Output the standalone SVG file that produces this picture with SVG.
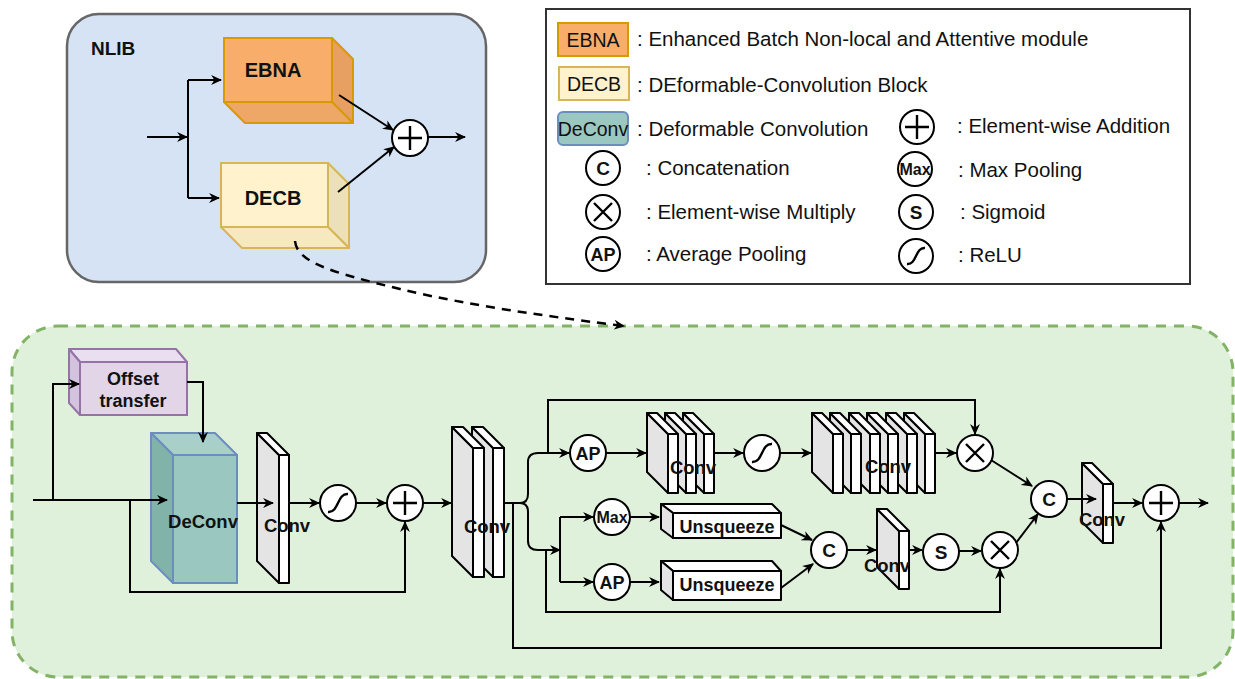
<svg xmlns="http://www.w3.org/2000/svg" width="1235" height="679" viewBox="0 0 1235 679">
<defs>
  <marker id="arr" viewBox="0 0 10 10" refX="9" refY="5" markerWidth="11" markerHeight="11" markerUnits="userSpaceOnUse" orient="auto">
    <path d="M0,0.5 L10,5 L0,9.5 L3,5 z" fill="#000"/>
  </marker>
</defs>
<style>
  .ln{fill:none;stroke:#000;stroke-width:2}
  .ar{fill:none;stroke:#000;stroke-width:2;marker-end:url(#arr)}
  .op{fill:#fff;stroke:#000;stroke-width:2}
  .sym{fill:none;stroke:#000;stroke-width:2.4}
  .b{font-family:"Liberation Sans",Arial,sans-serif;font-weight:bold;text-anchor:middle;fill:#111}
  .lg{font-family:"Liberation Sans",Arial,sans-serif;font-size:20.5px;fill:#111}
  .sw{font-family:"Liberation Sans",Arial,sans-serif;font-size:19.5px;fill:#111;text-anchor:middle}
  .side{fill:#e4e4e4;stroke:#000;stroke-width:2;stroke-linejoin:round}
  .face{fill:#fff;stroke:#000;stroke-width:2;stroke-linejoin:round}
</style>

<rect width="1235" height="679" fill="#fff"/>

<!-- NLIB container -->
<g id="nlib">
  <rect x="67" y="14" width="419" height="268" rx="32" fill="#d5e3f5" stroke="#666" stroke-width="2.5"/>
  <text class="b" x="91" y="55" font-size="19" style="text-anchor:start">NLIB</text>
</g>

<g id="ebna">
  <rect x="224" y="38" width="108" height="64" fill="#f9ad6b" stroke="#d79b00" stroke-width="2"/>
  <polygon points="332,38 353,59 353,123 332,102" fill="#e8a062" stroke="#d79b00" stroke-width="2" stroke-linejoin="round"/>
  <polygon points="224,102 332,102 353,123 245,123" fill="#eea766" stroke="#d79b00" stroke-width="2" stroke-linejoin="round"/>
  <text class="b" x="273" y="77" font-size="20">EBNA</text>
</g>

<g id="decb">
  <rect x="221" y="163" width="107" height="64" fill="#fff2cc" stroke="#d6b656" stroke-width="2"/>
  <polygon points="328,163 349,184 349,248 328,227" fill="#ece0b8" stroke="#d6b656" stroke-width="2" stroke-linejoin="round"/>
  <polygon points="221,227 328,227 349,248 242,248" fill="#f6e9c0" stroke="#d6b656" stroke-width="2" stroke-linejoin="round"/>
  <text class="b" x="273" y="205" font-size="20">DECB</text>
</g>

<g id="nlib-add">
  <circle class="op" cx="410" cy="138" r="18"/>
  <path class="sym" d="M398,138 H422 M410,126 V150"/>
</g>

<!-- Legend -->
<g id="legend">
  <rect x="546" y="9" width="644" height="275" fill="#fff" stroke="#333" stroke-width="2"/>
  <rect x="558" y="23" width="70" height="33" fill="#f9ad6b" stroke="#d79b00" stroke-width="2"/>
  <text class="sw" x="593" y="47">EBNA</text>
  <text class="lg" x="637" y="46">: Enhanced Batch Non-local and Attentive module</text>
  <rect x="559" y="67" width="70" height="33" fill="#fff2cc" stroke="#d6b656" stroke-width="2"/>
  <text class="sw" x="594" y="91">DECB</text>
  <text class="lg" x="637" y="92">: DEformable-Convolution Block</text>
  <rect x="558" y="112" width="70" height="33" rx="5" fill="#9ac7bf" stroke="#6c8ebf" stroke-width="2"/>
  <text class="sw" x="593" y="136">DeConv</text>
  <text class="lg" x="637" y="136">: Deformable Convolution</text>

  <circle class="op" cx="603" cy="168" r="17"/>
  <text class="b" x="603" y="175" font-size="19">C</text>
  <text class="lg" x="646" y="175">: Concatenation</text>
  <circle class="op" cx="603" cy="212" r="17"/>
  <path class="sym" d="M594,203 L612,221 M612,203 L594,221"/>
  <text class="lg" x="646" y="219">: Element-wise Multiply</text>
  <circle class="op" cx="603" cy="254" r="17"/>
  <text class="b" x="603" y="261" font-size="18">AP</text>
  <text class="lg" x="646" y="261">: Average Pooling</text>

  <circle class="op" cx="917" cy="127" r="17"/>
  <path class="sym" d="M905,127 H929 M917,115 V139"/>
  <text class="lg" x="957" y="133">: Element-wise Addition</text>
  <circle class="op" cx="915" cy="169" r="17"/>
  <text class="b" x="915" y="175" font-size="16">Max</text>
  <text class="lg" x="958" y="177">: Max Pooling</text>
  <circle class="op" cx="916" cy="212" r="17"/>
  <text class="b" x="916" y="219" font-size="19">S</text>
  <text class="lg" x="960" y="219">: Sigmoid</text>
  <circle class="op" cx="916" cy="256" r="17"/>
  <path class="sym" d="M907,264 C917,265 915,247 925,248"/>
  <text class="lg" x="958" y="262">: ReLU</text>
</g>

<!-- DECB detail container -->
<g id="decb-detail">
  <rect x="12" y="326" width="1221" height="351" rx="46" fill="#dff1db" stroke="#82b366" stroke-width="3" stroke-dasharray="10,8"/>
</g>

<g id="offset">
  <polygon points="69,349 176,349 187,362 80,362" fill="#e9dff0" stroke="#9673a6" stroke-width="2" stroke-linejoin="round"/>
  <polygon points="69,349 80,362 80,415 69,403" fill="#d4c3de" stroke="#9673a6" stroke-width="2" stroke-linejoin="round"/>
  <rect x="80" y="362" width="107" height="53" fill="#e1d5e7" stroke="#9673a6" stroke-width="2"/>
  <text class="b" x="133" y="385" font-size="18">Offset</text>
  <text class="b" x="133" y="407" font-size="18">transfer</text>
</g>

<g id="deconv">
  <polygon points="151,433 215,433 237,455 173,455" fill="#a8d0c8" stroke="#6c8ebf" stroke-width="2" stroke-linejoin="round"/>
  <polygon points="151,433 173,455 173,583 151,561" fill="#82b3a9" stroke="#6c8ebf" stroke-width="2" stroke-linejoin="round"/>
  <rect x="173" y="455" width="64" height="128" fill="#9ac7bf" stroke="#6c8ebf" stroke-width="2"/>
  <text class="b" x="203" y="528" font-size="18.5">DeConv</text>
</g>

<g id="conv1">
  <polygon class="side" points="257,433 279,455 279,583 257,561"/>
  <polygon class="face" points="257,433 267,433 289,455 279,455"/>
  <rect class="face" x="279" y="455" width="10" height="128"/>
  <text class="b" x="287" y="532" font-size="18.5">Conv</text>
</g>

<g id="relu1">
  <circle class="op" cx="338" cy="503" r="18"/>
  <path class="sym" d="M328,512 C339,513 337,493 348,494"/>
</g>
<g id="add1">
  <circle class="op" cx="405" cy="503" r="18"/>
  <path class="sym" d="M393,503 H417 M405,491 V515"/>
</g>

<g id="conv2">
  <polygon class="side" points="472,427 493,448 493,577 472,556"/>
  <polygon class="face" points="472,427 483,427 504,448 493,448"/>
  <rect class="face" x="493" y="448" width="11" height="129"/>
  <polygon class="side" points="452,427 473,448 473,577 452,556"/>
  <polygon class="face" points="452,427 463,427 484,448 473,448"/>
  <rect class="face" x="473" y="448" width="11" height="129"/>
  <text class="b" x="487" y="533" font-size="18.5">Conv</text>
</g>

<g id="ap1">
  <circle class="op" cx="588" cy="453" r="18"/>
  <text class="b" x="588" y="460" font-size="18">AP</text>
</g>

<g id="conv3">
  <polygon class="side" points="683,413 704,434 704,493 683,472"/>
  <polygon class="face" points="683,413 693,413 714,434 704,434"/>
  <rect class="face" x="704" y="434" width="10" height="59"/>
  <polygon class="side" points="665,413 686,434 686,493 665,472"/>
  <polygon class="face" points="665,413 675,413 696,434 686,434"/>
  <rect class="face" x="686" y="434" width="10" height="59"/>
  <polygon class="side" points="647,413 668,434 668,493 647,472"/>
  <polygon class="face" points="647,413 657,413 678,434 668,434"/>
  <rect class="face" x="668" y="434" width="10" height="59"/>
  <text class="b" x="693" y="474" font-size="18.5">Conv</text>
</g>

<g id="relu2">
  <circle class="op" cx="762" cy="453" r="18"/>
  <path class="sym" d="M752,462 C763,463 761,443 772,444"/>
</g>

<g id="conv4">
  <polygon class="side" points="904,413 925,434 925,493 904,472"/>
  <polygon class="face" points="904,413 914,413 935,434 925,434"/>
  <rect class="face" x="925" y="434" width="10" height="59"/>
  <polygon class="side" points="886,413 907,434 907,493 886,472"/>
  <polygon class="face" points="886,413 896,413 917,434 907,434"/>
  <rect class="face" x="907" y="434" width="10" height="59"/>
  <polygon class="side" points="867,413 888,434 888,493 867,472"/>
  <polygon class="face" points="867,413 877,413 898,434 888,434"/>
  <rect class="face" x="888" y="434" width="10" height="59"/>
  <polygon class="side" points="849,413 870,434 870,493 849,472"/>
  <polygon class="face" points="849,413 859,413 880,434 870,434"/>
  <rect class="face" x="870" y="434" width="10" height="59"/>
  <polygon class="side" points="830,413 851,434 851,493 830,472"/>
  <polygon class="face" points="830,413 840,413 861,434 851,434"/>
  <rect class="face" x="851" y="434" width="10" height="59"/>
  <polygon class="side" points="812,413 833,434 833,493 812,472"/>
  <polygon class="face" points="812,413 822,413 843,434 833,434"/>
  <rect class="face" x="833" y="434" width="10" height="59"/>
  <text class="b" x="888" y="473" font-size="18.5">Conv</text>
</g>

<g id="mul1">
  <circle class="op" cx="975" cy="453" r="18"/>
  <path class="sym" d="M966,444 L984,462 M984,444 L966,462"/>
</g>

<g id="max">
  <circle class="op" cx="612" cy="517" r="18"/>
  <text class="b" x="612" y="523" font-size="16">Max</text>
</g>
<g id="ap2">
  <circle class="op" cx="612" cy="582" r="18"/>
  <text class="b" x="612" y="589" font-size="18">AP</text>
</g>

<g id="unsq1">
  <polygon class="face" points="661,504 772,504 781,513 673,513"/>
  <polygon class="side" points="661,504 673,513 673,538 661,529"/>
  <rect class="face" x="673" y="513" width="108" height="25"/>
  <text class="b" x="727" y="533" font-size="18">Unsqueeze</text>
</g>
<g id="unsq2">
  <polygon class="face" points="661,561 772,561 781,571 673,571"/>
  <polygon class="side" points="661,561 673,571 673,600 661,590"/>
  <rect class="face" x="673" y="571" width="108" height="29"/>
  <text class="b" x="727" y="591" font-size="18">Unsqueeze</text>
</g>

<g id="cat1">
  <circle class="op" cx="829" cy="550" r="18"/>
  <text class="b" x="829" y="557" font-size="19">C</text>
</g>

<g id="conv5">
  <polygon class="side" points="877,509 899,531 899,589 877,567"/>
  <polygon class="face" points="877,509 887,509 909,531 899,531"/>
  <rect class="face" x="899" y="531" width="10" height="58"/>
  <text class="b" x="887" y="572" font-size="18.5">Conv</text>
</g>

<g id="sig">
  <circle class="op" cx="941" cy="552" r="18"/>
  <text class="b" x="941" y="559" font-size="19">S</text>
</g>

<g id="mul2">
  <circle class="op" cx="1000" cy="550" r="18"/>
  <path class="sym" d="M991,541 L1009,559 M1009,541 L991,559"/>
</g>

<g id="cat2">
  <circle class="op" cx="1049" cy="499" r="18"/>
  <text class="b" x="1049" y="506" font-size="19">C</text>
</g>

<g id="conv6">
  <polygon class="side" points="1082,463 1103,484 1103,543 1082,522"/>
  <polygon class="face" points="1082,463 1092,463 1113,484 1103,484"/>
  <rect class="face" x="1103" y="484" width="10" height="59"/>
  <text class="b" x="1102" y="526" font-size="18.5">Conv</text>
</g>

<g id="add2">
  <circle class="op" cx="1161" cy="503" r="18"/>
  <path class="sym" d="M1149,503 H1173 M1161,491 V515"/>
</g>

<!-- Connectors -->
<g id="connectors">
  <!-- NLIB -->
  <path class="ar" d="M147,137 H187"/>
  <path class="ln" d="M188,80 V198"/>
  <path class="ar" d="M188,80 H221"/>
  <path class="ar" d="M188,198 H219"/>
  <path class="ar" d="M339,95 L393,130"/>
  <path class="ar" d="M338,192 L394,147"/>
  <path class="ar" d="M428,137 H465"/>
  <path d="M295,241 C297,262 330,272 400,289 C470,306 560,318 624,326" fill="none" stroke="#000" stroke-width="2.5" stroke-dasharray="9,7" marker-end="url(#arr)"/>

  <!-- deformable branch -->
  <path class="ar" d="M33,500 H167"/>
  <path class="ar" d="M53,500 V384 H79"/>
  <path class="ar" d="M187,382 H203 V442"/>
  <path class="ar" d="M130,500 V592 H405 V522"/>
  <path class="ar" d="M237,503 H273"/>
  <path class="ar" d="M289,503 H319"/>
  <path class="ar" d="M356,503 H386"/>
  <path class="ar" d="M423,503 H451"/>

  <!-- attention branches -->
  <path class="ln" d="M504,503 H520"/>
  <path class="ar" d="M520,503 Q528,503 528,494 V462 Q528,453 538,453 H569"/>
  <path class="ar" d="M520,503 Q528,503 528,512 V541 Q528,550 538,550 H560"/>
  <path class="ar" d="M548,453 V400 H975 V434"/>
  <path class="ar" d="M546,550 V612 H1000 V569"/>
  <path class="ln" d="M560,517 V582"/>
  <path class="ar" d="M560,517 H593"/>
  <path class="ar" d="M560,582 H593"/>
  <path class="ar" d="M513,503 V648 H1161 V522"/>

  <path class="ar" d="M606,453 H646"/>
  <path class="ar" d="M714,453 H743"/>
  <path class="ar" d="M780,453 H811"/>
  <path class="ar" d="M935,453 H956"/>

  <path class="ar" d="M630,517 H659"/>
  <path class="ar" d="M630,582 H659"/>
  <path class="ar" d="M781,525 L812,540"/>
  <path class="ar" d="M781,588 L813,564"/>
  <path class="ar" d="M847,550 H876"/>
  <path class="ar" d="M909,550 H922"/>
  <path class="ar" d="M959,551 H981"/>
  <path class="ar" d="M1016,543 L1038,514"/>
  <path class="ar" d="M991,460 L1032,486"/>
  <path class="ar" d="M1067,499 H1096"/>
  <path class="ar" d="M1113,503 H1142"/>
  <path class="ar" d="M1179,503 H1208"/>
</g>
</svg>
